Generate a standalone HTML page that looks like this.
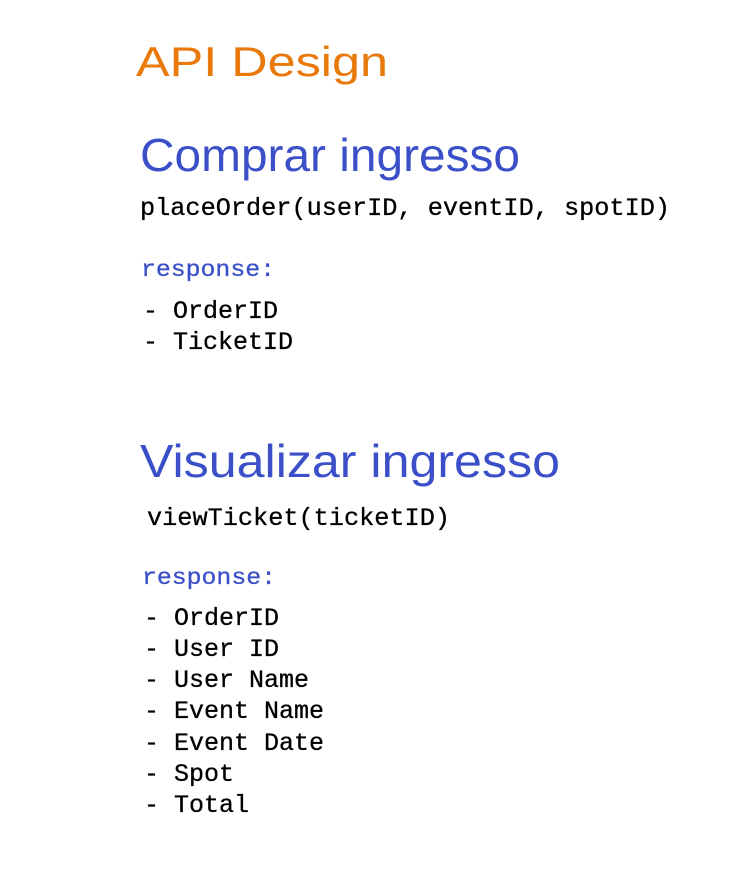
<!DOCTYPE html>
<html><head><meta charset="utf-8"><style>html,body{margin:0;padding:0;background:#fff;width:735px;height:871px;overflow:hidden}</style></head>
<body>
<svg width="735" height="871" xmlns="http://www.w3.org/2000/svg">
<g font-family="Liberation Sans, sans-serif">
<text x="136" y="76" font-size="42" fill="#e8790a" textLength="252" lengthAdjust="spacingAndGlyphs">API Design</text>
<text x="140" y="171" font-size="46" fill="#3b50c8" textLength="380" lengthAdjust="spacingAndGlyphs">Comprar ingresso</text>
<text x="140" y="477" font-size="46" fill="#3b50c8" textLength="420" lengthAdjust="spacingAndGlyphs">Visualizar ingresso</text>
</g>
<g font-family="Liberation Mono, monospace" font-size="25" fill="#000" stroke="#000" stroke-width="0.3">
<text x="140" y="215" textLength="530" lengthAdjust="spacingAndGlyphs">placeOrder(userID, eventID, spotID)</text>
<text x="141" y="276" fill="#3b50c8" stroke="#3b50c8" font-size="23" textLength="134" lengthAdjust="spacingAndGlyphs">response:</text>
<text x="143" y="318">- OrderID</text>
<text x="143" y="349">- TicketID</text>
<text x="147" y="525" textLength="303" lengthAdjust="spacingAndGlyphs">viewTicket(ticketID)</text>
<text x="142" y="584" fill="#3b50c8" stroke="#3b50c8" font-size="23" textLength="134" lengthAdjust="spacingAndGlyphs">response:</text>
<text x="144" y="625">- OrderID</text>
<text x="144" y="656">- User ID</text>
<text x="144" y="687">- User Name</text>
<text x="144" y="718">- Event Name</text>
<text x="144" y="750">- Event Date</text>
<text x="144" y="781">- Spot</text>
<text x="144" y="812">- Total</text>
</g>
</svg>
</body></html>
